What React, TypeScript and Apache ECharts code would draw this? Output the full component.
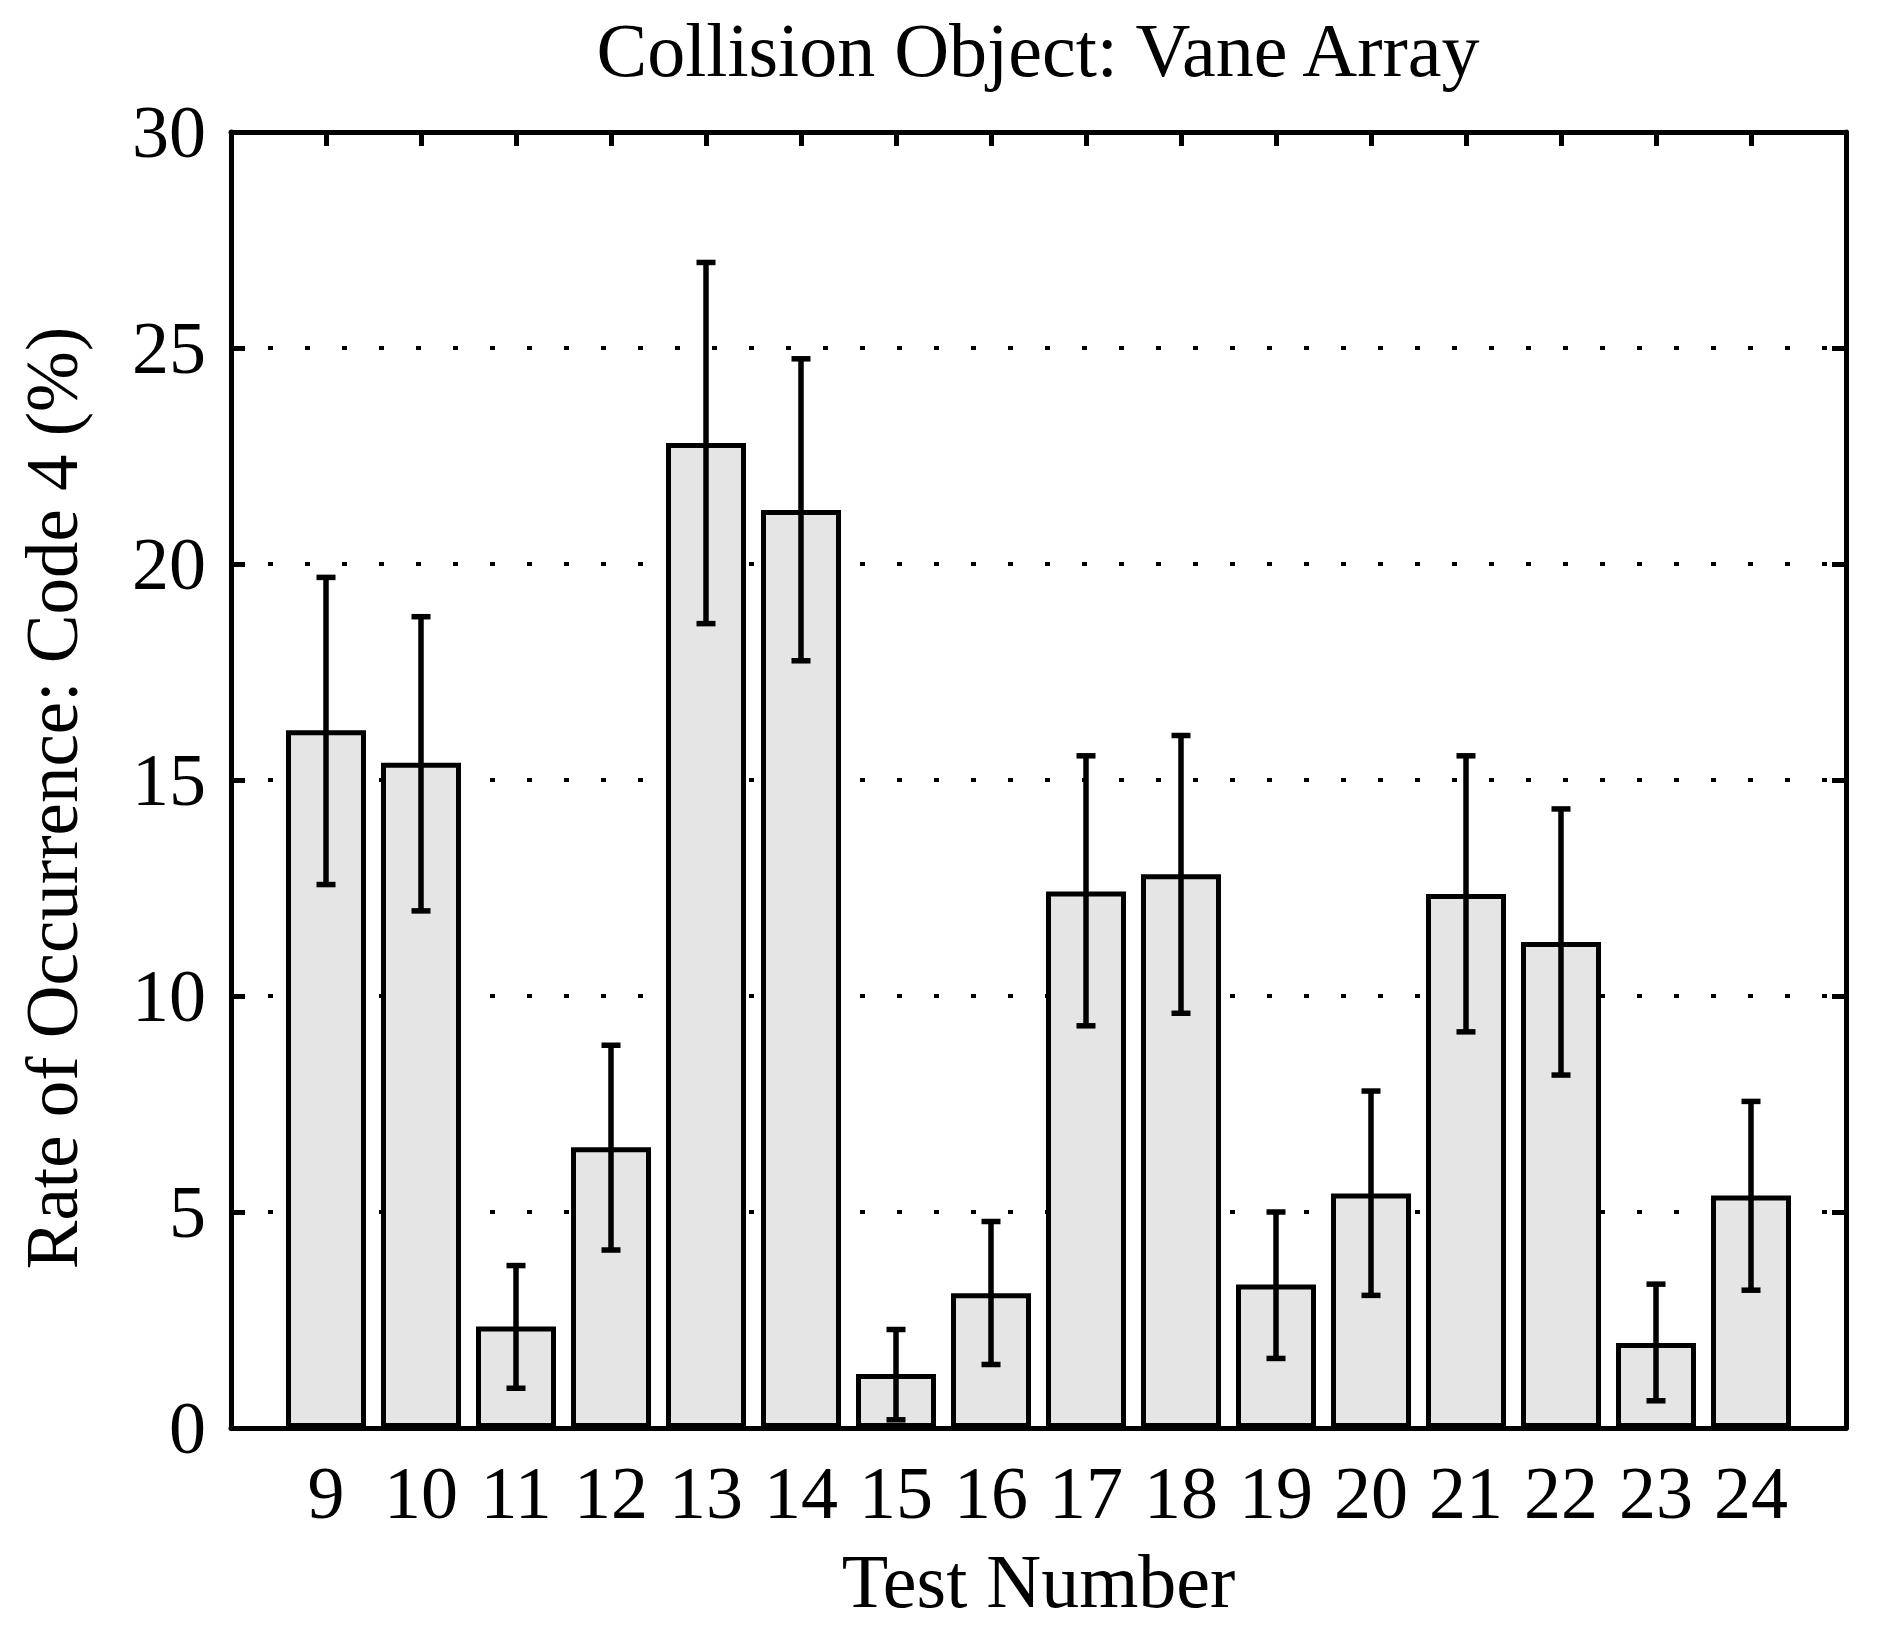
import React, { useEffect, useRef } from "react";
import * as echarts from "echarts";

const testNumbers = [9, 10, 11, 12, 13, 14, 15, 16, 17, 18, 19, 20, 21, 22, 23, 24];
const rates = [16.15, 15.4, 2.35, 6.5, 22.8, 21.25, 1.25, 3.12, 12.42, 12.82, 3.32, 5.43, 12.36, 11.25, 1.97, 5.38];
const errLow = [12.58, 11.97, 0.92, 4.12, 18.62, 17.76, 0.19, 1.47, 9.31, 9.6, 1.61, 3.07, 9.17, 8.17, 0.63, 3.19];
const errHigh = [19.69, 18.78, 3.76, 8.86, 26.98, 24.75, 2.28, 4.78, 15.56, 16.03, 5.0, 7.8, 15.56, 14.33, 3.33, 7.56];
const yTicks = { min: 0, max: 30, interval: 5 };
const xRange = { min: 8, max: 25 };

const TITLE = "Collision Object: Vane Array";
const X_NAME = "Test Number";
const Y_NAME = "Rate of Occurrence: Code 4 (%)";

export default function App() {
  const ref = useRef<HTMLDivElement>(null);
  useEffect(() => {
    const chart = echarts.init(ref.current!, null, { renderer: "svg" });
    const font = "'Liberation Serif', 'Times New Roman', serif";
    const black = "#000000";
    const barData = testNumbers.map((t, i) => [t, rates[i]]);
    const errData = testNumbers.map((t, i) => [t, errLow[i], errHigh[i]]);
    chart.setOption({
      animation: false,
      backgroundColor: "#ffffff",
      graphic: [
        {
          type: "text",
          x: 1030,
          y: 4,
          style: {
            text: TITLE,
            fontSize: 76,
            fontFamily: font,
            fill: black,
            align: "center",
            verticalAlign: "top",
          },
        },
      ],
      grid: { left: 222, top: 124, right: 30, bottom: 200, containLabel: false },
      xAxis: [
        {
          type: "value",
          position: "bottom",
          min: xRange.min,
          max: xRange.max,
          interval: 1,
          name: X_NAME,
          nameLocation: "middle",
          nameGap: 115,
          nameTextStyle: { fontSize: 76, fontFamily: font, color: black },
          axisLine: { show: true, onZero: false, lineStyle: { color: black, width: 5 } },
          axisTick: { show: false },
          axisLabel: {
            fontSize: 74,
            fontFamily: font,
            color: black,
            margin: 28,
            formatter: (v: number) => (testNumbers.includes(v) ? String(v) : ""),
          },
          splitLine: { show: false },
        },
        {
          type: "value",
          position: "top",
          min: xRange.min,
          max: xRange.max,
          interval: 1,
          axisLine: { show: true, onZero: false, lineStyle: { color: black, width: 5 } },
          axisTick: { show: true, inside: true, length: 14, lineStyle: { color: black, width: 5 } },
          axisLabel: { show: false },
          splitLine: { show: false },
        },
      ],
      yAxis: [
        {
          type: "value",
          position: "left",
          min: yTicks.min,
          max: yTicks.max,
          interval: yTicks.interval,
          name: Y_NAME,
          nameLocation: "middle",
          nameGap: 142,
          nameRotate: 90,
          nameTextStyle: { fontSize: 73, fontFamily: font, color: black, padding: [0, 36, 0, 0] },
          axisLine: { show: true, onZero: false, lineStyle: { color: black, width: 5 } },
          axisTick: { show: true, inside: true, length: 14, lineStyle: { color: black, width: 5 } },
          axisLabel: { fontSize: 74, fontFamily: font, color: black, margin: 25 },
          splitLine: {
            show: true,
            lineStyle: { color: black, width: 4, type: [5, 32], cap: "butt" },
          },
        },
        {
          type: "value",
          position: "right",
          min: yTicks.min,
          max: yTicks.max,
          interval: yTicks.interval,
          axisLine: { show: true, onZero: false, lineStyle: { color: black, width: 5 } },
          axisTick: { show: true, inside: true, length: 14, lineStyle: { color: black, width: 5 } },
          axisLabel: { show: false },
          splitLine: { show: false },
        },
      ],
      series: [
        {
          type: "bar",
          xAxisIndex: 0,
          yAxisIndex: 0,
          data: barData,
          barWidth: 80,
          itemStyle: { color: "#e5e5e5", borderColor: black, borderWidth: 5 },
          z: 2,
        },
        {
          type: "custom",
          xAxisIndex: 0,
          yAxisIndex: 0,
          data: errData,
          encode: { x: 0, y: [1, 2] },
          z: 5,
          renderItem: (params: any, api: any) => {
            const x = api.value(0);
            const lo = api.coord([x, api.value(1)]);
            const hi = api.coord([x, api.value(2)]);
            const half = 9.5;
            const style = { stroke: black, lineWidth: 5.5, fill: "none" };
            return {
              type: "group",
              children: [
                { type: "line", shape: { x1: lo[0], y1: lo[1], x2: hi[0], y2: hi[1] }, style },
                { type: "line", shape: { x1: lo[0] - half, y1: lo[1], x2: lo[0] + half, y2: lo[1] }, style },
                { type: "line", shape: { x1: hi[0] - half, y1: hi[1], x2: hi[0] + half, y2: hi[1] }, style },
              ],
            };
          },
        },
      ],
    });
    return () => chart.dispose();
  }, []);
  return <div ref={ref} style={{ width: 1868, height: 1620 }} />;
}
